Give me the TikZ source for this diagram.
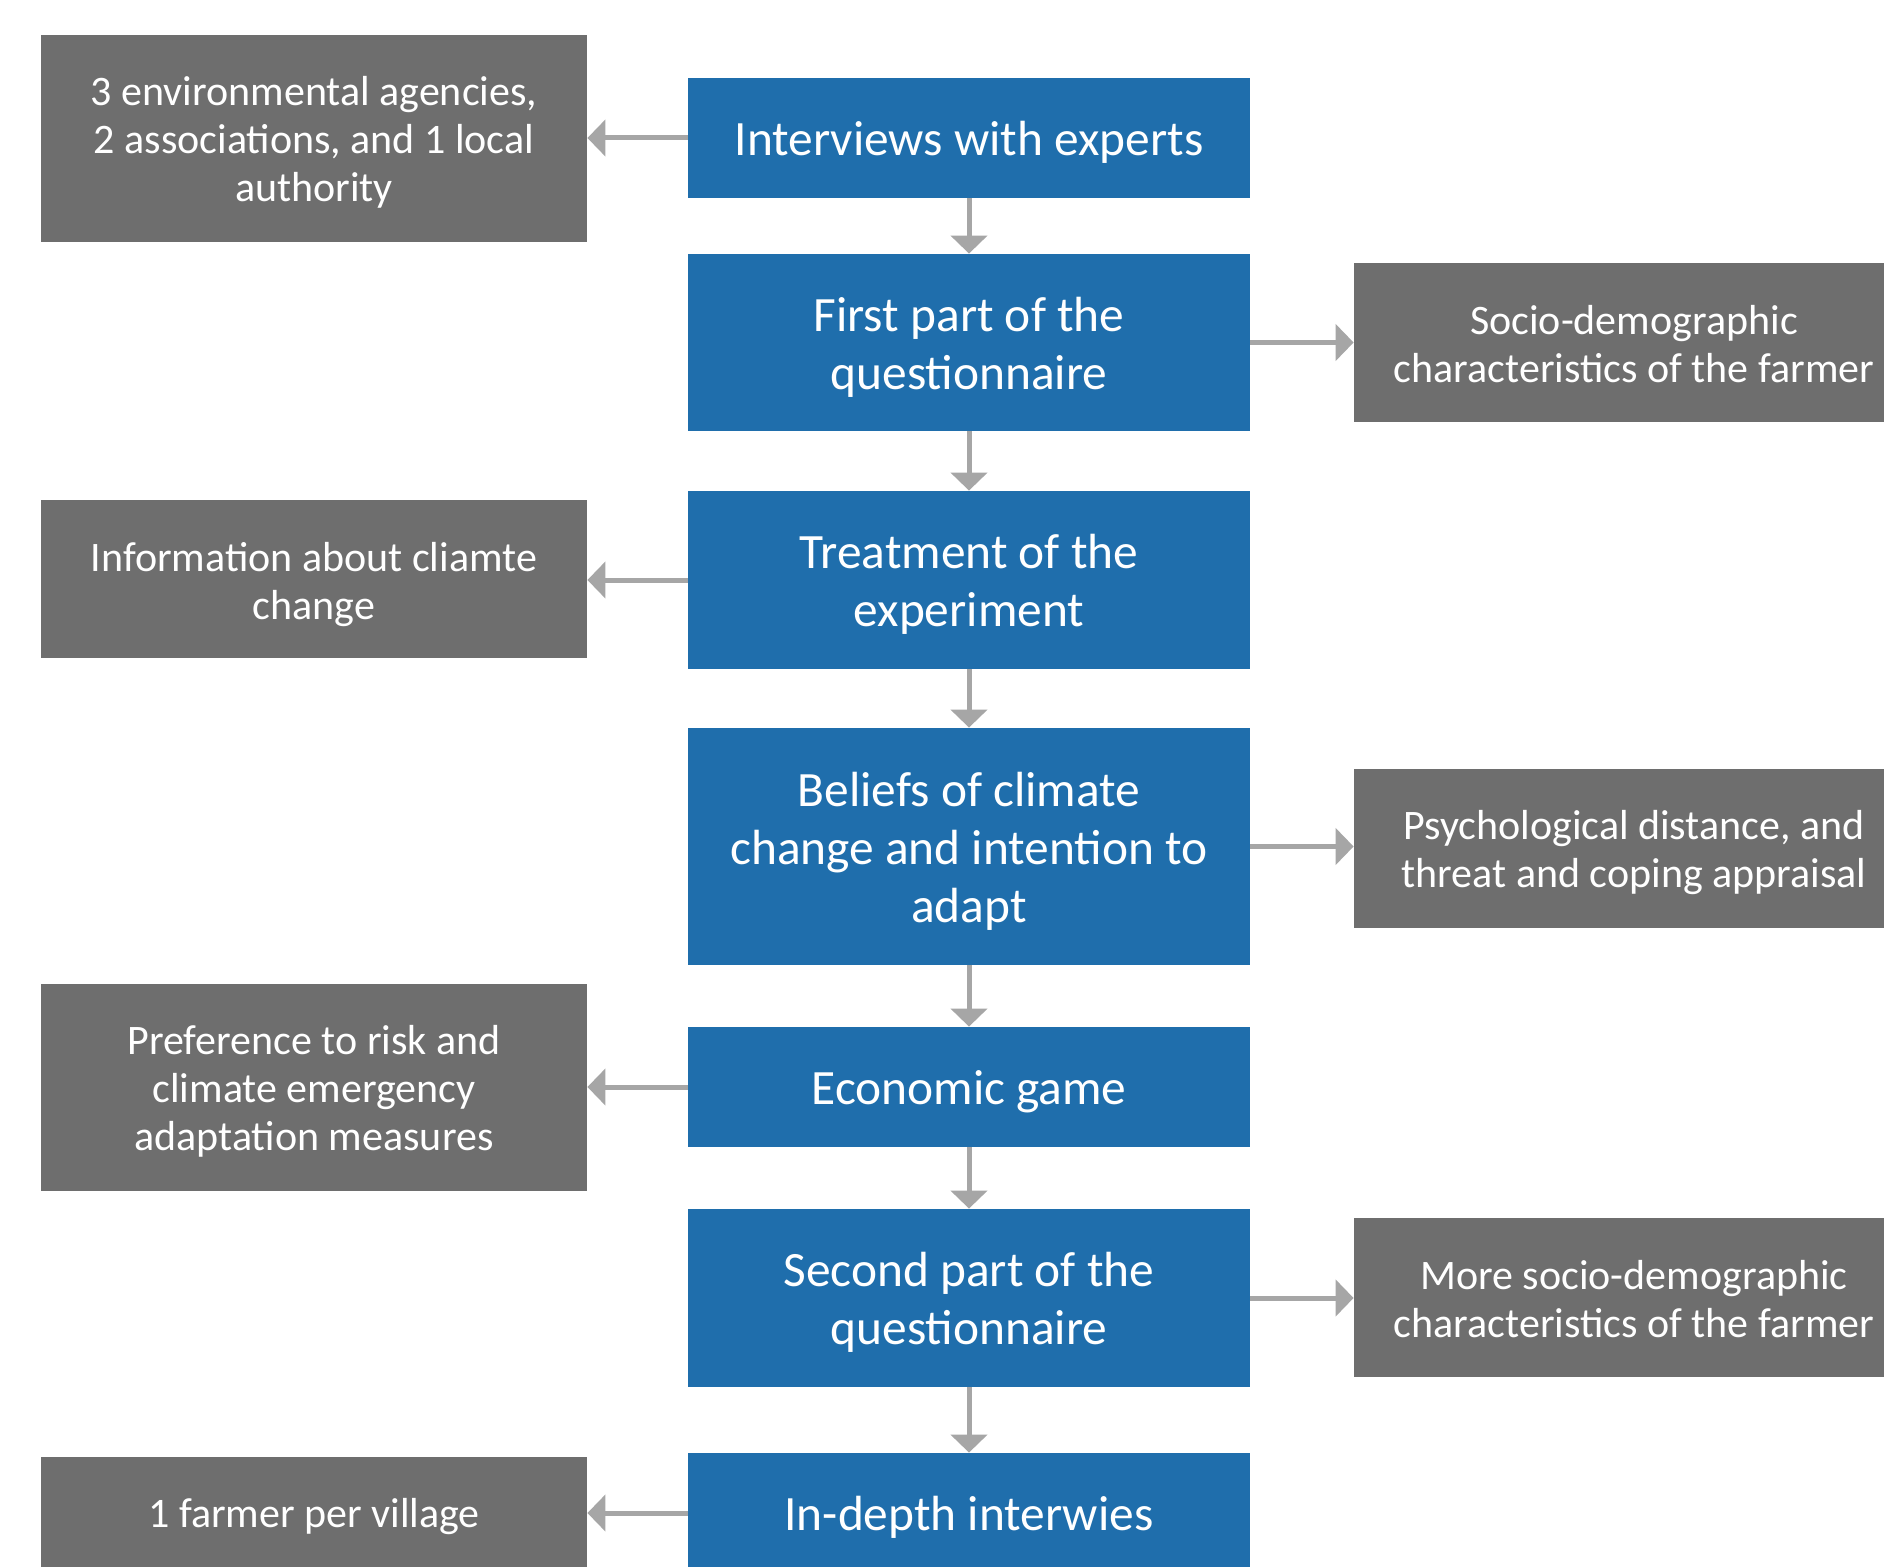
\documentclass[tikz,border=0pt]{standalone}
\usepackage{fontspec}
\setmainfont{Carlito}
\usetikzlibrary{arrows.meta}
\definecolor{stepblue}{HTML}{1F6EAC}
\definecolor{infogray}{HTML}{6E6E6E}
\definecolor{arrowgray}{HTML}{A6A6A6}
\begin{document}
\begin{tikzpicture}[x=0.5pt,y=-0.5pt,
  stepnode/.style={fill=stepblue, minimum width=281pt, inner sep=0pt},
  infonode/.style={fill=infogray, minimum width=273pt, inner sep=0pt},
  infor/.style={fill=infogray, minimum width=280pt, inner sep=0pt},
  steptext/.style={text=white, inner sep=0pt, align=center, yshift=-2.4pt,
    font=\fontsize{24.7}{29}\selectfont},
  infotext/.style={text=white, inner sep=0pt, align=center, yshift=-1.8pt,
    font=\fontsize{21}{24}\selectfont},
  conn/.style={draw=arrowgray, line width=2.5pt, -{Triangle[length=9pt,width=18pt]}}]
\clip (0,0) rectangle (1884,1567);
\fill[white] (0,0) rectangle (1884,1567);
% blue column
\node[stepnode, minimum height=60pt] (s1) at (969,138) {};
\node[stepnode, minimum height=88.5pt] (s2) at (969,342.5) {};
\node[stepnode, minimum height=89pt] (s3) at (969,580) {};
\node[stepnode, minimum height=118.5pt] (s4) at (969,846.5) {};
\node[stepnode, minimum height=60pt] (s5) at (969,1087) {};
\node[stepnode, minimum height=89pt] (s6) at (969,1298) {};
\node[stepnode, minimum height=60pt] (s7) at (969,1513) {};
\node[steptext] (ts1) at (s1.center) {Interviews with experts};
\node[steptext] (ts2) at (s2.center) {First part of the\\questionnaire};
\node[steptext] (ts3) at (s3.center) {Treatment of the\\experiment};
\node[steptext] (ts4) at (s4.center) {Beliefs of climate\\change and intention to\\adapt};
\node[steptext] (ts5) at (s5.center) {Economic game};
\node[steptext] (ts6) at (s6.center) {Second part of the\\questionnaire};
\node[steptext] (ts7) at (s7.center) {In-depth interwies};
% left gray
\node[infonode, minimum height=103.5pt] (g1) at (314,138.5) {};
\node[infonode, minimum height=79pt] (g2) at (314,579) {};
\node[infonode, minimum height=103.5pt] (g3) at (314,1087.5) {};
\node[infonode, minimum height=56pt] (g4) at (314,1513) {};
\node[infotext] (tg1) at (g1.center) {3 environmental agencies,\\2 associations, and 1 local\\authority};
\node[infotext, yshift=-1pt] (tg2) at (g2.center) {Information about cliamte\\change};
\node[infotext] (tg3) at (g3.center) {Preference to risk and\\climate emergency\\adaptation measures};
\node[infotext] (tg4) at (g4.center) {1 farmer per village};
% right gray
\node[infor, minimum height=79.5pt] (r1) at (1634,342.5) {};
\node[infor, minimum height=79.5pt] (r2) at (1634,848.5) {};
\node[infor, minimum height=79.5pt] (r3) at (1634,1297.5) {};
\node[infotext, yshift=1pt] (tr1) at (r1.center) {Socio-demographic\\characteristics of the farmer};
\node[infotext] (tr2) at (r2.center) {Psychological distance, and\\threat and coping appraisal};
\node[infotext, yshift=1pt] (tr3) at (r3.center) {More socio-demographic\\characteristics of the farmer};
% vertical connectors
\draw[conn] (s1.south) -- (s2.north);
\draw[conn] (s2.south) -- (s3.north);
\draw[conn] (s3.south) -- (s4.north);
\draw[conn] (s4.south) -- (s5.north);
\draw[conn] (s5.south) -- (s6.north);
\draw[conn] (s6.south) -- (s7.north);
% side connectors
\draw[conn] (s1.west) -- (s1.west -| g1.east);
\draw[conn] (s3.west) -- (s3.west -| g2.east);
\draw[conn] (s5.west) -- (s5.west -| g3.east);
\draw[conn] (s7.west) -- (s7.west -| g4.east);
\draw[conn] (s2.east) -- (s2.east -| r1.west);
\draw[conn] (s4.east) -- (s4.east -| r2.west);
\draw[conn] (s6.east) -- (s6.east -| r3.west);
\end{tikzpicture}
\end{document}
